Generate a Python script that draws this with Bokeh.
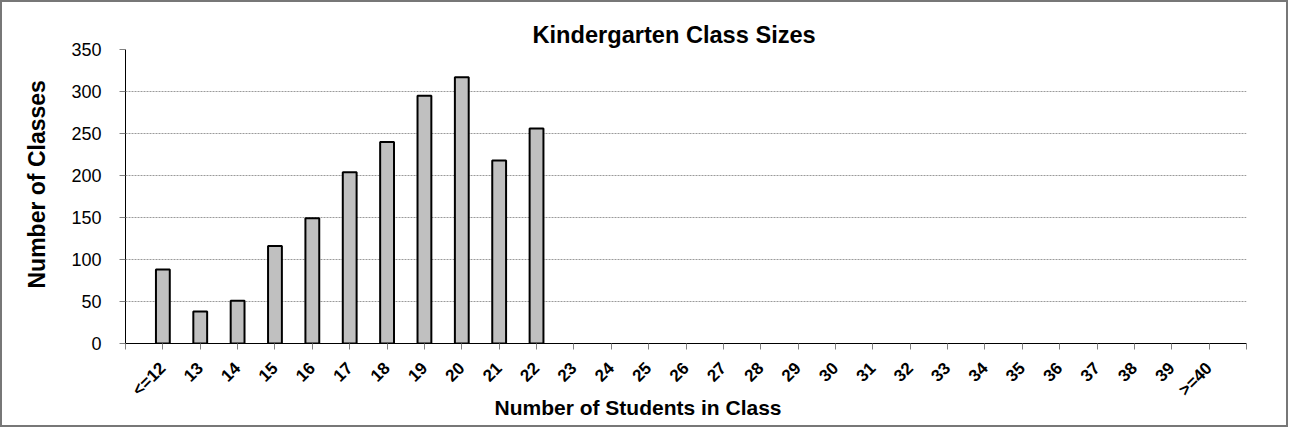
import math
from bokeh.plotting import figure
from bokeh.models import FixedTicker, Range1d, ColumnDataSource, Title
from bokeh.embed import file_html
from bokeh.resources import INLINE

# ---- data ----
categories = ["<=12", "13", "14", "15", "16", "17", "18", "19", "20", "21", "22",
              "23", "24", "25", "26", "27", "28", "29", "30", "31", "32", "33",
              "34", "35", "36", "37", "38", "39", ">=40"]
class_counts = [88, 38, 51, 116, 149, 204, 240, 295, 317, 218, 256,
                0, 0, 0, 0, 0, 0, 0, 0, 0, 0, 0,
                0, 0, 0, 0, 0, 0, 0]
y_ticks = [0, 50, 100, 150, 200, 250, 300, 350]

title_text = "Kindergarten Class Sizes"
x_label = "Number of Students in Class"
y_label = "Number of Classes"

# positions: category i sits at x = i + 1, axis spans 0 .. n + 1
n = len(categories)
xs = [i + 1 for i in range(n)]
keep = [i for i in range(n) if class_counts[i] > 0]
src = ColumnDataSource(dict(x=[xs[i] for i in keep],
                            top=[class_counts[i] for i in keep]))

FONT = "Liberation Sans"

p = figure(width=1288, height=427, output_backend="svg", toolbar_location=None,
           x_range=Range1d(0, n + 1), y_range=Range1d(y_ticks[0], y_ticks[-1]),
           min_border_left=123, min_border_right=44, min_border_top=47,
           min_border_bottom=86)
p.styles = {"border": "2px solid #777777"}
p.background_fill_color = "white"
p.border_fill_color = "white"
p.outline_line_color = None

p.title.text = title_text
p.title.align = "left"
p.title.offset = 407
p.title.text_font = FONT
p.title.text_font_style = "bold"
p.title.text_font_size = "23.6px"
p.title.text_color = "black"
p.title.standoff = 4

p.vbar(x="x", top="top", bottom=0, width=0.37, source=src,
       fill_color="#C0C0C0", line_color="black", line_width=2)

# x axis
xa = p.xaxis[0]
xa.ticker = FixedTicker(ticks=list(range(0, n + 2)), minor_ticks=[])
overrides = {0: "", n + 1: ""}
for i, c in enumerate(categories):
    overrides[i + 1] = c
xa.major_label_overrides = overrides
xa.major_label_orientation = math.pi / 4
xa.major_label_text_font = FONT
xa.major_label_text_font_style = "bold"
xa.major_label_text_font_size = "17px"
xa.major_label_text_color = "black"
xa.major_label_standoff = 16
xa.major_tick_in = 0
xa.major_tick_out = 6
xa.major_tick_line_color = "#808080"
xa.minor_tick_line_color = None
xa.axis_line_color = "black"
xa.axis_line_width = 1

# y axis
ya = p.yaxis[0]
ya.ticker = FixedTicker(ticks=y_ticks, minor_ticks=[])
ya.major_label_text_font = FONT
ya.major_label_text_font_size = "18px"
ya.major_label_text_color = "black"
ya.major_label_standoff = 18
ya.major_tick_in = 0
ya.major_tick_out = 6
ya.major_tick_line_color = "#808080"
ya.minor_tick_line_color = None
ya.axis_line_color = "black"

p.xgrid.visible = False
p.ygrid.grid_line_color = "#9a9a9a"
p.ygrid.grid_line_dash = "2 1"
p.ygrid.grid_line_width = 1

# axis titles
xt = Title(text=x_label, align="left", offset=369, vertical_align="top",
           text_font=FONT, text_font_style="bold", text_font_size="21px",
           text_color="black", standoff=-28)
p.add_layout(xt, "below")
yt = Title(text=y_label, align="left", offset=55, text_font=FONT,
           text_font_style="bold", text_font_size="23px", text_color="black",
           standoff=38)
p.add_layout(yt, "left")

open("out.html", "w").write(file_html(p, INLINE))
